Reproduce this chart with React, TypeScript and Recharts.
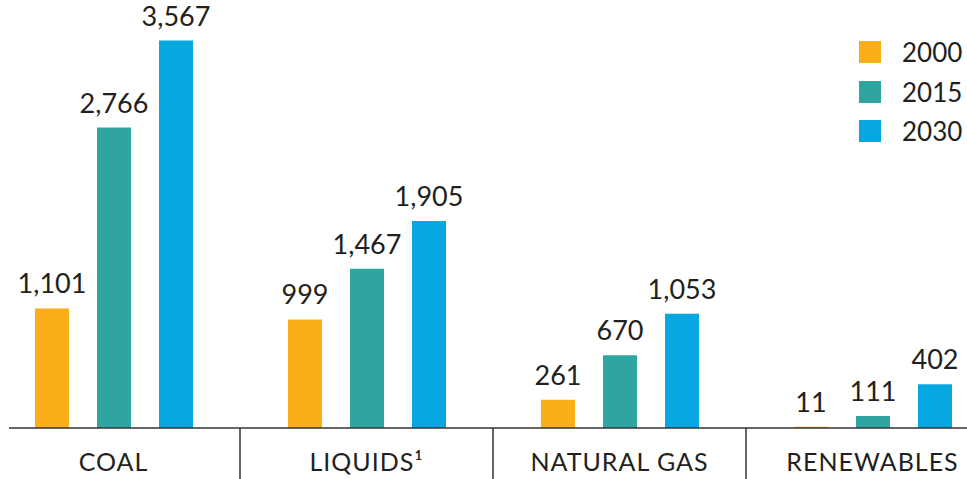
import React from 'react';
import { BarChart, Bar, XAxis, YAxis, LabelList } from 'recharts';

const CATEGORIES = ['COAL', 'LIQUIDS¹', 'NATURAL GAS', 'RENEWABLES'];
const Y2000 = [1101, 999, 261, 11];
const Y2015 = [2766, 1467, 670, 111];
const Y2030 = [3567, 1905, 1053, 402];

const SERIES = [
  { key: 'y2000', name: '2000', color: '#FAAE1A' },
  { key: 'y2015', name: '2015', color: '#2EA5A3' },
  { key: 'y2030', name: '2030', color: '#07A8E1' },
];

const data = CATEGORIES.map((name, i) => ({
  name,
  y2000: Y2000[i],
  y2015: Y2015[i],
  y2030: Y2030[i],
}));

const W = 967;
const H = 479;
const MARGIN = { top: 37, right: -32, bottom: 0, left: -13 };
const BAND = (W - MARGIN.left - MARGIN.right) / CATEGORIES.length;
const FONT = 'Lato, "Open Sans", sans-serif';
const INK = '#231f20';

// draws the label, the base line under each group and the dividers between groups
const CategoryTick = (props: any) => {
  const { x, y, payload, index } = props;
  const half = BAND / 2;
  const left = index === 0 ? 9 : x - half;
  const right = x + half;
  return (
    <g>
      <line x1={left} x2={Math.min(right, W)} y1={y} y2={y} stroke="#333" strokeWidth={1.5} />
      {index < CATEGORIES.length - 1 && (
        <line x1={right} x2={right} y1={y} y2={H} stroke="#333" strokeWidth={1.5} />
      )}
      <text
        x={x}
        y={y + 43}
        textAnchor="middle"
        fill={INK}
        fontSize={25}
        fontFamily={FONT}
        letterSpacing={1}
      >
        {payload.value}
      </text>
    </g>
  );
};

const fmt = (v: any) => Number(v).toLocaleString('en-US');

const App = () => {
  return (
    <div style={{ position: 'absolute', left: 0, top: 0, width: W, height: H, background: '#fff' }}>
      <BarChart width={W} height={H} data={data} margin={MARGIN} barSize={34} barGap={28}>
        <XAxis
          dataKey="name"
          height={51}
          axisLine={false}
          tickLine={false}
          tickSize={0}
          tickMargin={0}
          interval={0}
          tick={<CategoryTick />}
        />
        <YAxis hide domain={[0, 3600]} />
        {SERIES.map((s) => (
          <Bar key={s.key} dataKey={s.key} name={s.name} fill={s.color} isAnimationActive={false}>
            <LabelList
              dataKey={s.key}
              position="top"
              offset={15}
              formatter={fmt}
              fill={INK}
              fontSize={27}
              fontFamily={FONT}
            />
          </Bar>
        ))}
      </BarChart>
      <div style={{ position: 'absolute', left: 859, top: 41, fontFamily: FONT }}>
        {SERIES.map((s) => (
          <div key={s.key} style={{ display: 'flex', alignItems: 'center', height: 22, marginBottom: 17.5 }}>
            <div style={{ width: 22, height: 22, background: s.color }} />
            <span style={{ marginLeft: 21, fontSize: 26, color: INK, lineHeight: '22px' }}>{s.name}</span>
          </div>
        ))}
      </div>
    </div>
  );
};

export default App;
